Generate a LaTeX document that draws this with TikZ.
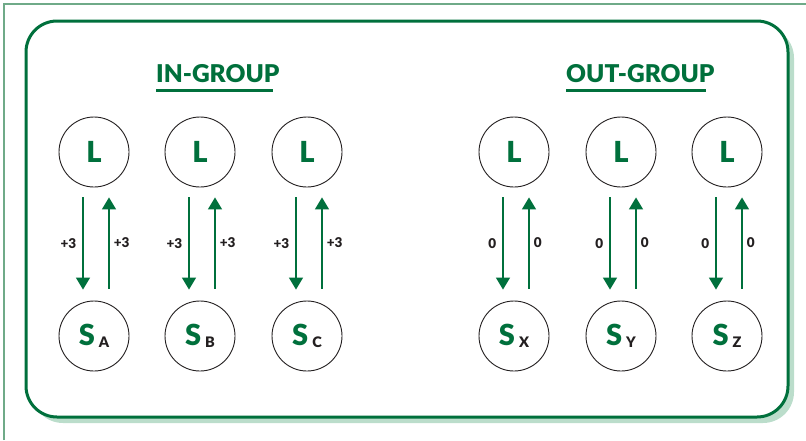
\documentclass[tikz,border=0pt]{standalone}
\usepackage{fontspec}
\setmainfont{Lato}[BoldFont={Lato Black}]
\usetikzlibrary{arrows.meta}
\definecolor{dgreen}{HTML}{00703C}
\definecolor{lgreen}{HTML}{BBDDCB}
\definecolor{fgreen}{HTML}{6FAA88}
\definecolor{ink}{HTML}{231F20}
\tikzset{
  circ/.style={circle, draw=ink, line width=0.9pt, minimum size=70pt, inner sep=0pt, fill=white,
    font=\fontsize{29}{29}\selectfont\bfseries, text=dgreen},
  head/.style={inner sep=0pt, anchor=base west, font=\fontsize{24.5}{25}\selectfont\bfseries, text=dgreen},
  ul/.style={draw=dgreen, line width=3pt},
  arr/.style={draw=dgreen, line width=1.6pt, -{Triangle[width=14pt,length=12pt]}},
  lab/.style={font=\fontsize{13.5}{14}\selectfont\bfseries, text=ink, inner sep=1pt},
}
\newcommand{\subsc}[1]{\hspace{4pt}\raisebox{-1.5pt}{\fontsize{14.5}{15}\selectfont\color{ink}#1}}
\begin{document}
\begin{tikzpicture}[x=1pt,y=-1pt]
\useasboundingbox (0,0) rectangle (806,440);
\draw[fgreen, line width=2pt] (4,440) -- (4,4) -- (806,4);
\fill[lgreen, rounded corners=31pt] (32,27) rectangle (794,423);
\draw[dgreen, line width=3pt, fill=white, rounded corners=31pt] (26,21) rectangle (788,417);
% headings
\node[head] (ing) at (156,82) {IN-GROUP};
\node[head] (outg) at (566,82) {OUT-GROUP};
\draw[ul] ([yshift=-8pt]ing.base west) -- ++(117,0);
\draw[ul] ([yshift=-8pt]outg.base west) -- ++(140,0);
% circles and arrows
\foreach \i/\x/\s/\v in {1/94/A/+3, 2/200/B/+3, 3/307/C/+3, 4/514/X/0, 5/621/Y/0, 6/727/Z/0}{
  \node[circ] (L\i) at (\x,152) {L};
  \node[circ] (S\i) at (\x,336) {S\subsc{\s}};
  \draw[arr] ([xshift=-11pt,yshift=-10pt]L\i.south) -- node[lab, midway, left=5pt] (dl\i) {\v} ([xshift=-11pt,yshift=11pt]S\i.north);
  \draw[arr] ([xshift=15pt,yshift=12pt]S\i.north) -- node[lab, midway, right=3pt] (ul\i) {\v} ([xshift=15pt,yshift=-10pt]L\i.south);
}
\end{tikzpicture}
\end{document}
